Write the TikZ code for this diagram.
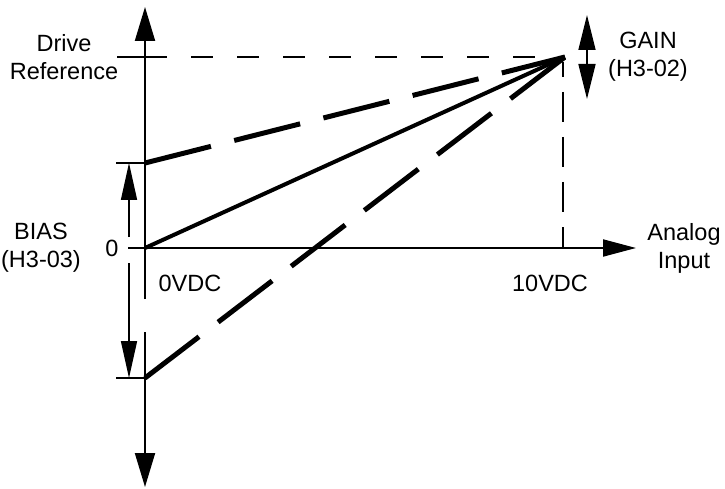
\documentclass[tikz,border=0pt]{standalone}
\usepackage{fontspec}
\setmainfont{Liberation Sans}
\usetikzlibrary{arrows.meta}
\begin{document}
\begin{tikzpicture}[x=1pt,y=-1pt,
  lbl/.style={inner sep=0pt,align=center,font=\fontsize{23.5}{28}\selectfont},
  axisline/.style={line width=2pt},
  bigtip/.style={-{Triangle[length=34pt,width=20pt]}},
  htip/.style={-{Triangle[length=33pt,width=17pt]}},
  smalltip/.style={line width=1.6pt,-{Triangle[length=37pt,width=16pt]}},
  gaintip/.style={line width=1.6pt,{Triangle[length=35pt,width=17pt]}-{Triangle[length=35pt,width=17pt]}},
  tick/.style={line width=1.8pt},
  thindash/.style={line width=1.8pt,dash pattern=on 22pt off 24pt},
  vdash/.style={line width=1.8pt,dash pattern=on 30pt off 15pt,dash phase=15pt},
  thickline/.style={line width=4pt},
  thickdash/.style={line width=5pt,dash pattern=on 68pt off 24pt}]
\useasboundingbox (0,0) rectangle (725,489);
% coordinates
\coordinate (O) at (145,248);
\coordinate (P) at (565,57);
\coordinate (B1) at (145,163);
\coordinate (B2) at (145,378);
\coordinate (R) at (145,57);
\coordinate (yTop) at (145,7);
\coordinate (yBot) at (145,487);
\coordinate (gapA) at (145,299);
\coordinate (gapB) at (145,332);
\coordinate (xStart) at (128,248);
\coordinate (xEnd) at (636,248);
\coordinate (tR) at (117,57);
\coordinate (tB1) at (116,163);
\coordinate (tB2) at (116,378);
\coordinate (vTop) at (563,62);
\coordinate (vBot) at (563,248);
\coordinate (bUpS) at (129,237);
\coordinate (bUpE) at (129,163);
\coordinate (bDnS) at (129,263);
\coordinate (bDnE) at (129,378);
\coordinate (gT) at (587,15);
\coordinate (gB) at (587,99);
% labels
\node[lbl] (drive) at (64,57) {Drive\\Reference};
\node[lbl] (gain) at (648,57) {GAIN\\(H3-02)};
\node[lbl] (bias) at (41,248) {BIAS\\(H3-03)};
\node[lbl] (zero) at (112,248) {0};
\node[lbl] (v0) at (190,283) {0VDC};
\node[lbl] (v10) at (550,283) {10VDC};
\node[lbl] (analog) at (684,248) {Analog\\Input};
% axes
\draw[axisline,bigtip] (gapA) -- (yTop);
\draw[axisline,bigtip] (gapB) -- (yBot);
\draw[axisline,htip] (xStart) -- (xEnd);
% ticks
\draw[tick] (tR) -- (R);
\draw[tick] (tB1) -- (B1);
\draw[tick] (tB2) -- (B2);
% reference dashed lines
\draw[thindash] (R) -- (P);
\draw[vdash] (vTop) -- (vBot);
% characteristic lines
\draw[thickline] (O) -- (P);
\draw[thickdash] (B1) -- (P);
\draw[thickdash] (B2) -- (P);
% bias and gain arrows
\draw[smalltip] (bUpS) -- (bUpE);
\draw[smalltip] (bDnS) -- (bDnE);
\draw[gaintip] (gT) -- (gB);
\end{tikzpicture}
\end{document}
